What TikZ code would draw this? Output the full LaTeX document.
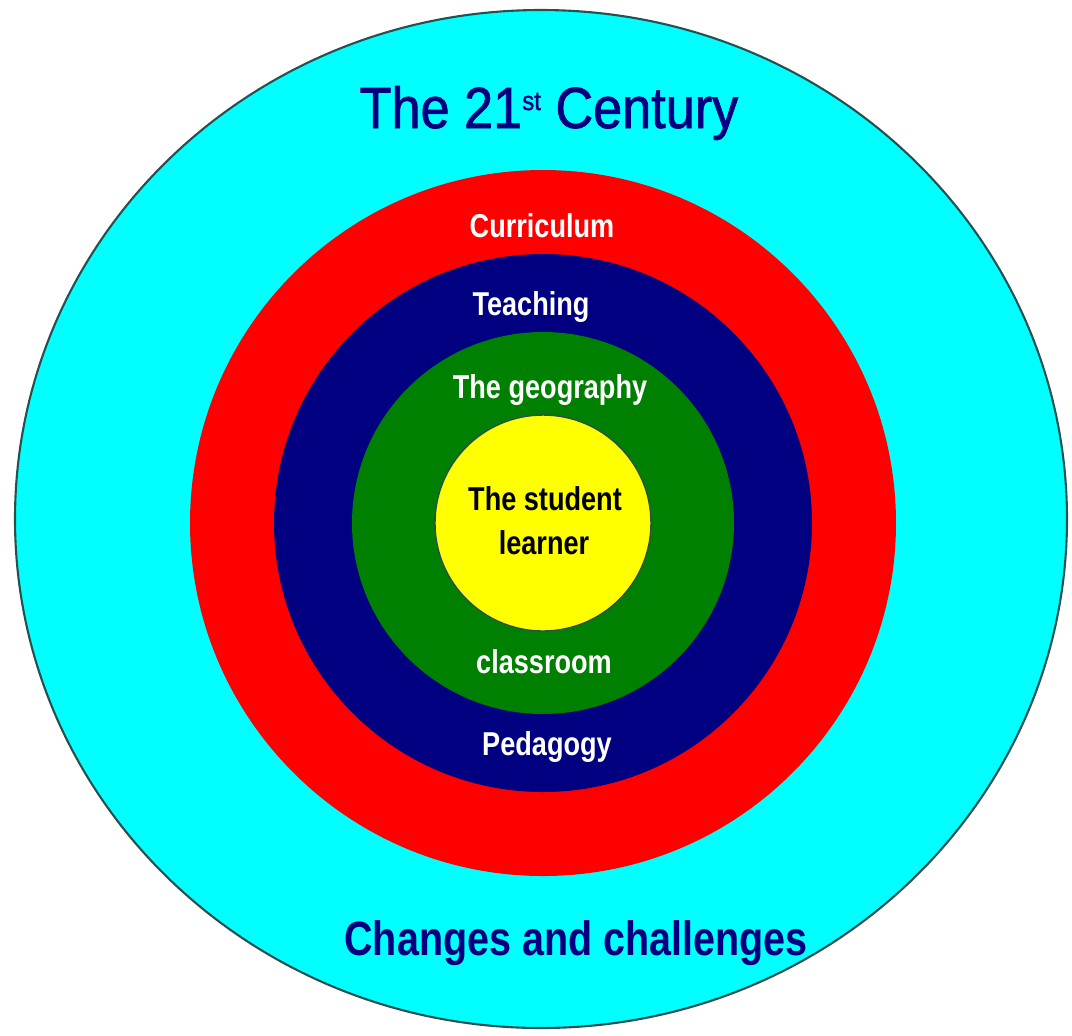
\documentclass[tikz,border=0pt]{standalone}
\usepackage{fontspec}
\newfontfamily\bandfont[FakeStretch=0.82]{Liberation Sans Bold}
\newfontfamily\titlefont[FakeStretch=0.9,FakeBold=1.2]{Liberation Sans}

\definecolor{ringcyan}{RGB}{0,255,255}
\definecolor{ringred}{RGB}{255,0,0}
\definecolor{ringnavy}{RGB}{0,0,128}
\definecolor{ringgreen}{RGB}{0,128,0}
\definecolor{ringyellow}{RGB}{255,255,0}
\definecolor{ringedge}{RGB}{40,80,80}

\newcommand{\supst}[1]{\raisebox{5.1pt}{\fontsize{7.6}{8}\selectfont #1}}

\tikzset{
  band/.style={font=\bandfont\fontsize{9.4}{11}\selectfont, text=white, anchor=base, inner sep=0pt},
  heading/.style={font=\titlefont\fontsize{16.5}{19}\selectfont, text=ringnavy, anchor=base, inner sep=0pt},
  footing/.style={font=\bandfont\fontsize{13.7}{16}\selectfont, text=ringnavy, anchor=base, inner sep=0pt}
}

\begin{document}
\begin{tikzpicture}[x=0.01cm,y=-0.01cm]
  \def\cx{543}
  \def\cy{523}
  \useasboundingbox (0,0) rectangle (1072,1035);

  % rings, outside in
  \draw[fill=ringcyan, draw=ringedge, line width=0.6pt] (541,519) ellipse [x radius=526, y radius=509];
  \fill[ringred]   (\cx,\cy) circle [radius=353];
  \fill[ringnavy]  (\cx,\cy) circle [radius=269];
  \fill[ringgreen] (\cx,\cy) circle [radius=191];
  \draw[fill=ringyellow, draw=ringedge, line width=0.4pt] (\cx,\cy) circle [radius=108];

  \node[heading] (century) at (549,128) {The 21\supst{st} Century};
  \node[band] (curriculum) at (542,237) {Curriculum};
  \node[band] (teaching)   at (531,315) {Teaching};
  \node[band] (geography)  at (550,398) {The geography};
  \node[band, text=black] (student) at (545,510) {The student};
  \node[band, text=black] (learner) at (544,554) {learner};
  \node[band] (classroom)  at (544,673) {classroom};
  \node[band] (pedagogy)   at (547,755) {Pedagogy};
  \node[footing] (changes) at (576,955) {Changes and challenges};
\end{tikzpicture}
\end{document}
